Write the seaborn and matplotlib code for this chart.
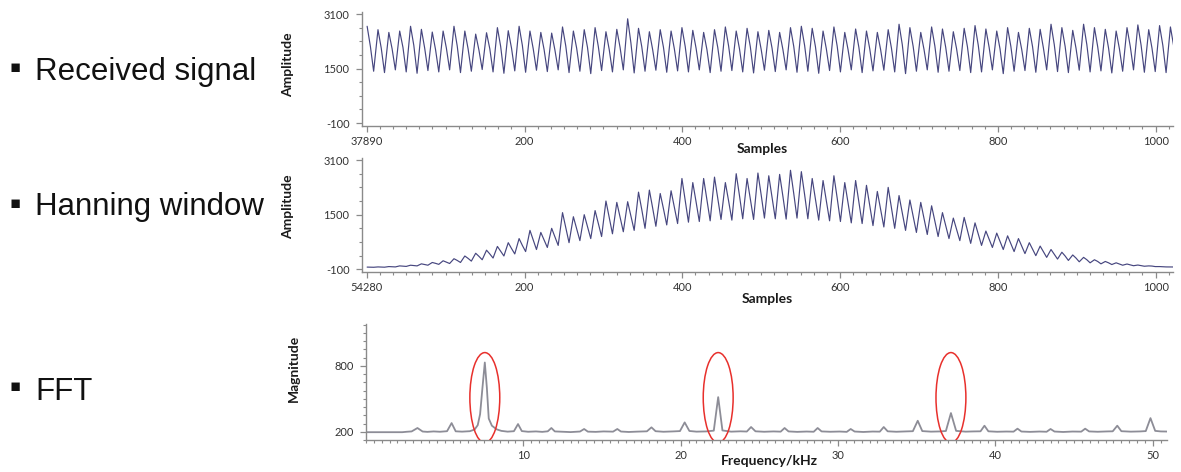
import numpy as np
import pandas as pd
import matplotlib
matplotlib.use("Agg")
import matplotlib.pyplot as plt
from matplotlib.patches import Ellipse
from matplotlib.ticker import MultipleLocator
import seaborn as sns

# ---------------- data ----------------
row_labels = ["Received signal", "Hanning window", "FFT"]

# waveform cycles (one peak / shoulder / trough per cycle)
cycle_start = 0.5
cycle_len = 13.76

recv_peaks = [2740, 2640, 2560, 2600, 2740, 2650, 2570, 2600, 2740, 2600,
              2510, 2550, 2700, 2610, 2740, 2600, 2560, 2540, 2720, 2600,
              2640, 2700, 2580, 2650, 2960, 2680, 2580, 2640, 2600, 2700,
              2620, 2560, 2640, 2720, 2600, 2680, 2580, 2620, 2560, 2700,
              2740, 2680, 2600, 2720, 2560, 2660, 2600, 2560, 2640, 2800,
              2700, 2560, 2720, 2660, 2580, 2680, 2760, 2660, 2600, 2700,
              2560, 2680, 2650, 2800, 2700, 2620, 2800, 2700, 2650, 2600,
              2700, 2780, 2640, 2760, 2720]
recv_shoulders = [2150, 2100, 2080, 2120, 2180, 2100, 2060, 2100, 2160, 2080,
                  2040, 2080, 2150, 2100, 2180, 2080, 2060, 2040, 2160, 2100,
                  2120, 2140, 2060, 2120, 2250, 2140, 2060, 2120, 2080, 2150,
                  2100, 2060, 2120, 2160, 2080, 2140, 2060, 2100, 2060, 2150,
                  2180, 2140, 2080, 2160, 2060, 2120, 2080, 2060, 2100, 2200,
                  2150, 2060, 2160, 2120, 2080, 2140, 2180, 2120, 2080, 2150,
                  2060, 2140, 2100, 2200, 2150, 2100, 2200, 2140, 2100, 2080,
                  2150, 2180, 2100, 2180, 2160]
recv_troughs = [1420, 1380, 1460, 1400, 1360, 1440, 1400, 1460, 1380, 1420,
                1470, 1400, 1360, 1430, 1390, 1450, 1410, 1460, 1380, 1420,
                1350, 1440, 1400, 1460, 1370, 1420, 1450, 1390, 1430, 1400,
                1460, 1380, 1420, 1440, 1400, 1370, 1450, 1410, 1460, 1390,
                1420, 1360, 1440, 1400, 1460, 1380, 1430, 1450, 1400, 1350,
                1420, 1460, 1390, 1420, 1440, 1380, 1400, 1460, 1350, 1420,
                1440, 1390, 1460, 1410, 1380, 1450, 1400, 1430, 1370, 1420,
                1460, 1390, 1410, 1380, 1440]

hann_peaks = [-35, -30, -20, 0, 20, 60, 100, 150, 210, 290,
              370, 460, 570, 680, 800, 1040, 980, 1100, 1560, 1440,
              1500, 1620, 1900, 1860, 1880, 2160, 2220, 2120, 2200, 2560,
              2440, 2560, 2600, 2440, 2700, 2560, 2720, 2640, 2680, 2800,
              2760, 2560, 2500, 2640, 2440, 2500, 2360, 2180, 2300, 2060,
              1930, 1860, 1760, 1560, 1400, 1420, 1260, 1020, 960, 880,
              800, 680, 580, 480, 400, 320, 250, 180, 130, 90,
              55, 25, 0, -20, -30]
hann_shoulders = [-38, -34, -25, -8, 10, 40, 75, 110, 160, 220,
                  280, 350, 430, 510, 600, 760, 760, 850, 1120, 1090,
                  1150, 1240, 1420, 1430, 1460, 1650, 1700, 1670, 1720, 1930,
                  1880, 1950, 1990, 1900, 2060, 1960, 2080, 2020, 2040, 2120,
                  2090, 1960, 1910, 1990, 1850, 1870, 1770, 1660, 1700, 1550,
                  1450, 1390, 1310, 1180, 1070, 1040, 930, 780, 720, 650,
                  580, 490, 415, 340, 290, 230, 180, 130, 90, 55,
                  30, 8, -5, -25, -32]
hann_troughs = [-40, -38, -30, -15, 0, 20, 45, 70, 100, 140,
                180, 230, 290, 350, 420, 480, 540, 600, 680, 740,
                800, 860, 940, 1000, 1040, 1100, 1160, 1200, 1240, 1280,
                1300, 1320, 1360, 1340, 1380, 1360, 1400, 1380, 1370, 1400,
                1380, 1340, 1320, 1300, 1260, 1240, 1180, 1140, 1100, 1040,
                980, 920, 860, 800, 740, 660, 600, 540, 480, 420,
                360, 300, 250, 200, 160, 120, 90, 60, 40, 20,
                5, -10, -20, -30, -35]

fft_freq = [0, 2.3, 2.6, 2.9,
            3.27, 3.6, 3.9, 4.3, 4.7,
            5.15, 5.44, 5.7, 6.1, 6.6, 6.9,
            7.1, 7.25, 7.4, 7.55, 7.68, 7.8, 8.0, 8.3, 8.6, 9.0, 9.4,
            9.66, 9.9, 10.3, 10.8, 11.2, 11.55,
            11.78, 12.0, 12.5, 13.0, 13.6,
            13.86, 14.1, 14.6, 15.1, 15.7,
            15.97, 16.2, 16.7, 17.2, 17.85,
            18.14, 18.4, 18.9, 19.5, 19.95,
            20.25, 20.55, 21.0, 21.6, 22.1,
            22.38, 22.65, 23.2, 23.8, 24.2,
            24.47, 24.75, 25.3, 25.9, 26.35,
            26.6, 26.85, 27.4, 28.0, 28.45,
            28.7, 28.95, 29.5, 30.1, 30.55,
            30.8, 31.05, 31.6, 32.2, 32.65,
            32.9, 33.15, 33.7, 34.3, 34.75,
            35.06, 35.35, 35.9, 36.5, 36.85,
            37.17, 37.5, 38.1, 38.6, 39.05,
            39.3, 39.55, 40.1, 40.7, 41.15,
            41.4, 41.65, 42.2, 42.8, 43.25,
            43.5, 43.75, 44.3, 44.9, 45.45,
            45.7, 45.95, 46.5, 47.1, 47.45,
            47.74, 48.0, 48.6, 49.2, 49.55,
            49.85, 50.15, 50.5, 50.9]
fft_mag = [196, 196, 200, 203,
           234, 202, 199, 203, 200,
           205, 279, 204, 201, 205, 220,
           260, 360, 600, 830, 600, 320, 255, 222, 208, 201, 205,
           270, 206, 200, 203, 199, 204,
           234, 203, 200, 197, 202,
           225, 201, 199, 203, 201,
           225, 202, 198, 201, 204,
           240, 205, 200, 203, 206,
           285, 207, 201, 203, 210,
           515, 212, 201, 204, 202,
           243, 204, 200, 203, 201,
           234, 203, 199, 202, 200,
           234, 203, 200, 202, 199,
           225, 202, 198, 202, 201,
           243, 204, 200, 203, 205,
           300, 206, 201, 203, 207,
           370, 208, 201, 203, 204,
           255, 204, 200, 202, 201,
           228, 202, 199, 202, 200,
           225, 202, 198, 202, 201,
           228, 203, 200, 203, 204,
           255, 205, 201, 203, 206,
           324, 208, 203, 202]

highlight_freq = [7.55, 22.38, 37.17]

sample_ticks = [0, 200, 400, 600, 800, 1000]
recv_tick_labels = ["37890", "200", "400", "600", "800", "1000"]
hann_tick_labels = ["54280", "200", "400", "600", "800", "1000"]
amp_ticks = [-100, 1500, 3100]
freq_ticks = [10, 20, 30, 40, 50]
mag_ticks = [200, 800]


def waveform(peaks, shoulders, troughs):
    rows = []
    for k, (p, s, t) in enumerate(zip(peaks, shoulders, troughs)):
        x0 = cycle_start + k * cycle_len
        rows.append((x0, p))
        rows.append((x0 + 0.3 * cycle_len, s))
        rows.append((x0 + 0.6 * cycle_len, t))
    return pd.DataFrame(rows, columns=["Samples", "Amplitude"])


recv_df = waveform(recv_peaks, recv_shoulders, recv_troughs)
hann_df = waveform(hann_peaks, hann_shoulders, hann_troughs)
fft_df = pd.DataFrame({"Frequency/kHz": fft_freq, "Magnitude": fft_mag})

# ---------------- style ----------------
sns.set_style("white")
plt.rcParams["font.family"] = ["Lato", "DejaVu Sans"]
plt.rcParams["axes.unicode_minus"] = False

W, H = 1181, 472
fig = plt.figure(figsize=(W / 100, H / 100), dpi=100)

spine_col = "#8a8a8a"
sig_col = "#46467f"
fft_col = "#8d8d97"


def px_axes(left, top, right, bottom):
    return fig.add_axes([left / W, 1 - bottom / H, (right - left) / W, (bottom - top) / H])


def style_axes(ax):
    for side in ["top", "right"]:
        ax.spines[side].set_visible(False)
    for side in ["left", "bottom"]:
        ax.spines[side].set_color(spine_col)
        ax.spines[side].set_linewidth(1.0)
    ax.tick_params(which="both", direction="out", color=spine_col,
                   bottom=True, left=True, top=False, right=False,
                   labelsize=8, labelcolor="#333333")
    ax.tick_params(which="major", length=4, width=0.9)
    ax.tick_params(which="minor", length=2.5, width=0.8)
    ax.tick_params(axis="y", pad=5)
    ax.tick_params(axis="x", pad=3.5)
    ax.grid(False)


ax1 = px_axes(362, 11.7, 1173, 126)
ax2 = px_axes(362, 158, 1173, 271.7)
ax3 = px_axes(366, 324, 1167, 440)

label_kw = dict(fontsize=10, fontweight="bold", color="#1a1a1a")

for ax, df, labels in [(ax1, recv_df, recv_tick_labels), (ax2, hann_df, hann_tick_labels)]:
    sns.lineplot(data=df, x="Samples", y="Amplitude", ax=ax, color=sig_col,
                 linewidth=0.85, estimator=None, sort=False)
    ax.set_xlim(-6, 1022)
    style_axes(ax)
    ax.set_xticks(sample_ticks)
    ax.set_xticklabels(labels)
    ax.xaxis.set_minor_locator(MultipleLocator(200 / 12))
    ax.set_yticks(amp_ticks)
    ax.yaxis.set_minor_locator(MultipleLocator(400, offset=-100))
    ax.set_xlabel("Samples", **label_kw)
    ax.set_ylabel("Amplitude", **label_kw)

ax1.set_ylim(-188, 3168)
ax2.set_ylim(-170, 3160)
ax1.xaxis.set_label_coords(0.494, -0.145)
ax1.yaxis.set_label_coords(-0.084, 0.535)
ax2.xaxis.set_label_coords(0.50, -0.185)
ax2.yaxis.set_label_coords(-0.084, 0.57)

sns.lineplot(data=fft_df, x="Frequency/kHz", y="Magnitude", ax=ax3, color=fft_col,
             linewidth=1.3, estimator=None, sort=False)
ax3.set_xlim(0, 50.9)
ax3.set_ylim(125, 1180)
style_axes(ax3)
ax3.set_xticks(freq_ticks)
ax3.xaxis.set_minor_locator(MultipleLocator(0.5))
ax3.set_yticks(mag_ticks)
ax3.yaxis.set_minor_locator(MultipleLocator(75, offset=50))
ax3.set_xlabel("Frequency/kHz", **label_kw)
ax3.set_ylabel("Magnitude", **label_kw)
ax3.xaxis.set_label_coords(0.504, -0.13)
ax3.yaxis.set_label_coords(-0.082, 0.62)

for f in highlight_freq:
    ax3.add_patch(Ellipse((f, 510), width=1.9, height=820, fill=False,
                          edgecolor="#e8302c", linewidth=1.1, zorder=5))

# left-hand bullet labels
for label, base_px, bullet_px in zip(row_labels, [80, 215, 400], [67.5, 203, 386]):
    fig.text(15.5 / W, 1 - bullet_px / H, "\u25aa", ha="center", va="center",
             fontsize=12, family=["DejaVu Sans"], color="#111111")
    fig.text(35 / W, 1 - base_px / H, label, ha="left", va="baseline",
             fontsize=22.5, family=["Liberation Sans", "DejaVu Sans"], color="#111111")

fig.savefig("out.png", dpi=100)
